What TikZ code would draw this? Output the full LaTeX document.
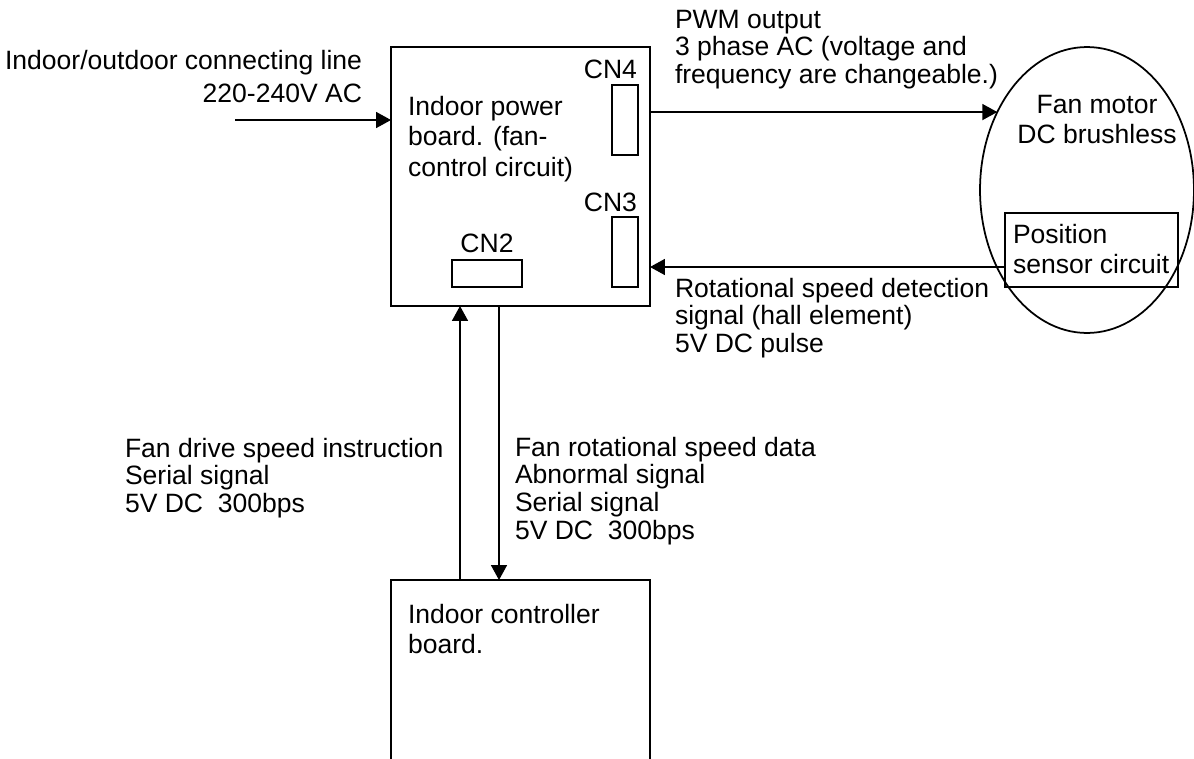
\documentclass[tikz,border=0pt]{standalone}
\usepackage{fontspec}
\setmainfont{Liberation Sans}
\usetikzlibrary{arrows.meta,shapes.geometric}
\newcommand{\txtlines}[2][l]{\begin{tabular}[t]{@{}#1@{}}#2\end{tabular}}
\tikzset{
    board/.style = {draw, line width = 1pt, inner sep = 0pt, outer sep = 0pt},
    sig/.style = {line width = 0.9pt, -{Triangle[length = 0.3cm, width = 0.32cm]}},
    lbl/.style = {inner sep = 0pt, outer sep = 0pt, font = \fontsize{15.1}{15.9}\selectfont},
    boxlbl/.style = {inner sep = 0pt, outer sep = 0pt, font = \fontsize{15.1}{17.6}\selectfont}
}
\begin{document}
\begin{tikzpicture}[x = 0.02cm, y = -0.02cm]
        \useasboundingbox (0, 0) rectangle (1194, 758);
        \clip (0, 0) rectangle (1194, 758);
        \node[board, minimum width = 5.18cm, minimum height = 5.18cm] (power) at (520.5, 176.5) {};
        \node[board, minimum width = 0.52cm, minimum height = 1.4cm] (cnfour) at (625, 120) {};
        \node[board, minimum width = 0.52cm, minimum height = 1.4cm] (cnthree) at (625, 252) {};
        \node[board, minimum width = 1.4cm, minimum height = 0.54cm] (cntwo) at (487, 273.5) {};
        \node[board, ellipse, minimum width = 4.28cm, minimum height = 5.72cm] (motor) at (1087, 190) {};
        \node[board, minimum width = 3.46cm, minimum height = 1.48cm] (sensor) at (1091.5, 250) {};
        \node[board, minimum width = 5.18cm, minimum height = 6cm] (ctrl) at (520.5, 730) {};
        \node[boxlbl, anchor = base west] (powertxt) at (408, 115) {\txtlines{Indoor power\\board. (fan-\\control circuit)}};
        \node[boxlbl, anchor = base east] (cnfourtxt) at (637, 78) {CN4};
        \node[boxlbl, anchor = base east] (cnthreetxt) at (637, 211) {CN3};
        \node[boxlbl, anchor = base] (cntwotxt) at (487, 252) {CN2};
        \node[boxlbl, anchor = base] (motortxt) at (1097, 113) {\txtlines[c]{Fan motor\\DC brushless}};
        \node[boxlbl, anchor = base west] (sensortxt) at (1013, 243) {\txtlines{Position\\sensor circuit}};
        \node[boxlbl, anchor = base west] (ctrltxt) at (408, 623) {\txtlines{Indoor controller\\board.}};
        \coordinate (acin) at (235, 120);
        \coordinate (hall) at (1005, 267);
        \draw[sig] (acin) -- (acin -| power.west);
        \draw[sig] (power.east |- motor.139) -- (motor.139);
        \draw[sig] (hall) -- (hall -| power.east);
        \draw[sig] (ctrl.north -| 460, 0) -- (power.south -| 460, 0);
        \draw[sig] (power.south -| 499, 0) -- (ctrl.north -| 499, 0);
        \node[lbl, anchor = base east, font = \fontsize{15.1}{18.8}\selectfont] (acintxt) at (362, 69) {\txtlines[r]{Indoor/outdoor connecting line\\220-240V AC}};
        \node[lbl, anchor = base west] (pwmtxt) at (675, 28) {\txtlines{PWM output\\3 phase AC (voltage and\\frequency are changeable.)}};
        \node[lbl, anchor = base west] (halltxt) at (675, 297) {\txtlines{Rotational speed detection\\signal (hall element)\\5V DC pulse}};
        \node[lbl, anchor = base west] (cmdtxt) at (125, 457) {\txtlines{Fan drive speed instruction\\Serial signal\\5V DC~~300bps}};
        \node[lbl, anchor = base west] (datatxt) at (515, 456) {\txtlines{Fan rotational speed data\\Abnormal signal\\Serial signal\\5V DC~~300bps}};
    \end{tikzpicture}
\end{document}
